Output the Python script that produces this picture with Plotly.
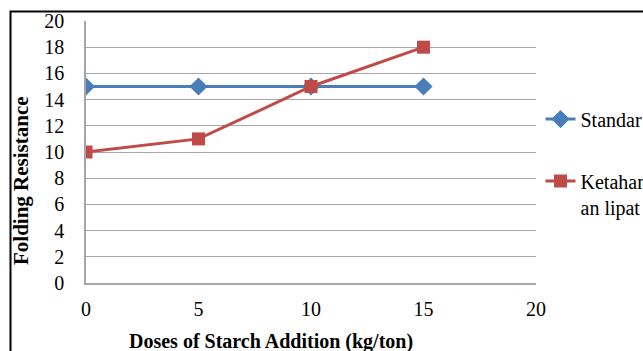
import plotly.graph_objects as go

doses = [0, 5, 10, 15]
standard = [15, 15, 15, 15]
ketahanan = [10, 11, 15, 18]
x_ticks = [0, 5, 10, 15, 20]
y_ticks = list(range(0, 21, 2))

FONT = "Liberation Serif"

fig = go.Figure()
fig.add_trace(go.Scatter(
    x=doses, y=standard, mode="lines+markers", name="Standar",
    line=dict(color="#4a7ebb", width=3),
    marker=dict(symbol="diamond", size=14, color="#4a7ebb"),
    legend="legend", showlegend=True,
))
fig.add_trace(go.Scatter(
    x=doses, y=ketahanan, mode="lines+markers", name="Ketahan<br>an lipat",
    line=dict(color="#be4b48", width=3),
    marker=dict(symbol="square", size=13, color="#be4b48"),
    legend="legend2", showlegend=True,
))

leg_common = dict(xanchor="left", yanchor="top", valign="top",
                  font=dict(size=20), itemwidth=30, bgcolor="rgba(0,0,0,0)")

fig.update_layout(
    width=643, height=351, showlegend=True,
    margin=dict(l=86, r=107, t=21, b=68, autoexpand=False),
    paper_bgcolor="white", plot_bgcolor="white",
    font=dict(family=FONT, size=20, color="black"),
    xaxis=dict(
        range=[0, 20], tickvals=x_ticks, showgrid=False, zeroline=False,
        showline=True, linecolor="#a6a6a6", linewidth=1.5, ticks="",
        ticklabelstandoff=7,
    ),
    yaxis=dict(
        range=[0, 20], tickvals=y_ticks, showgrid=True, gridcolor="#a6a6a6", gridwidth=1,
        zeroline=False, showline=True, linecolor="#a6a6a6", linewidth=1.5, ticks="",
        ticklabelstandoff=16,
    ),
    legend=dict(x=1.01, y=0.70, **leg_common),
    legend2=dict(x=1.01, y=0.464, **leg_common),
    annotations=[
        dict(text="<b>Doses of Starch Addition (kg/ton)</b>", xref="paper", yref="paper",
             x=(271 - 86) / 450, y=(283 - 341) / 262, xanchor="center", yanchor="middle",
             showarrow=False, font=dict(size=20)),
        dict(text="<b>Folding Resistance</b>", xref="paper", yref="paper",
             x=(21 - 86) / 450, y=(283 - 181) / 262, xanchor="center", yanchor="middle",
             textangle=-90, showarrow=False, font=dict(size=21)),
    ],
    shapes=[dict(
        type="rect", xref="paper", yref="paper",
        x0=(10.5 - 86) / 450, x1=2, y0=-1, y1=(283 - 11.5) / 262,
        line=dict(color="black", width=2), layer="below",
    )],
)

fig.write_html("out.html")
